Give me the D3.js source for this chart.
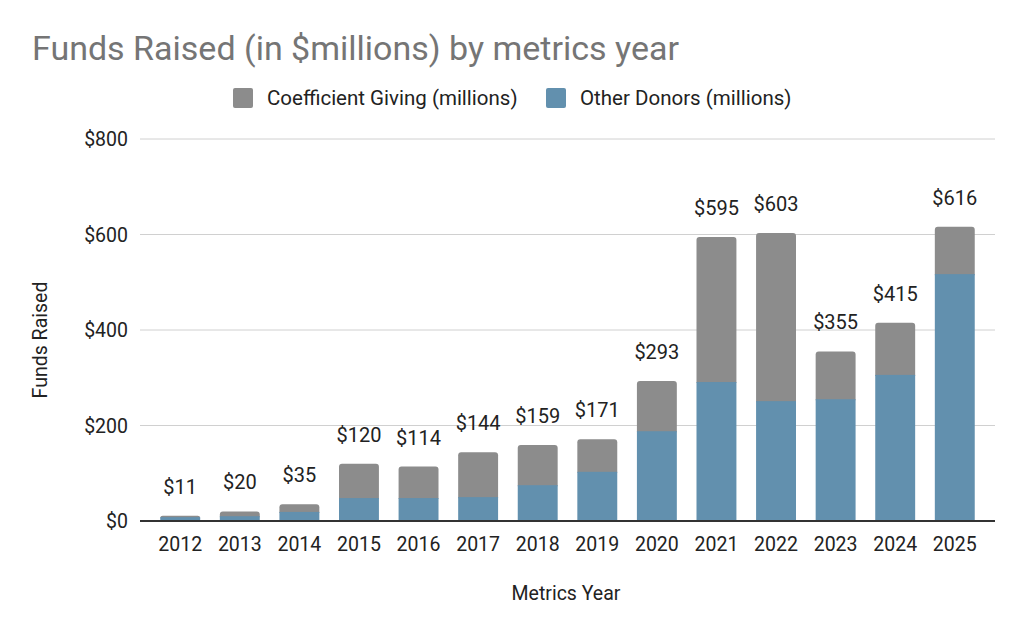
<!DOCTYPE html>
<html><head><meta charset="utf-8">
<script src="https://cdn.jsdelivr.net/npm/d3@7"></script>
<style>body{margin:0;background:#fff;font-family:Roboto,sans-serif}</style>
</head><body><svg id="c" width="1024" height="633"></svg>
<script>
const years = ["2012","2013","2014","2015","2016","2017","2018","2019","2020","2021","2022","2023","2024","2025"];
const other = [8,10,19,48,48,50,75,103,188,291,251,255,306,517];
const totals = [11,20,35,120,114,144,159,171,293,595,603,355,415,616];
const coefficient = totals.map((t, i) => t - other[i]);
const yTicks = [0,200,400,600,800];

const svg = d3.select("#c");
const m = {l: 140, r: 995, t: 139, b: 521};
const x = d3.scaleBand().domain(years).range([m.l, m.r]).paddingInner(0.33).paddingOuter(0.34);
const y = d3.scaleLinear().domain([0, 800]).range([m.b, m.t]);

svg.append("text").attr("x", 32).attr("y", 60).attr("font-size", 34).attr("fill", "#757575").text("Funds Raised (in $millions) by metrics year");

// legend
const leg = [["Coefficient Giving (millions)", "#8c8c8c", 233], ["Other Donors (millions)", "#6290ae", 546]];
leg.forEach(([t, c, lx]) => {
  svg.append("rect").attr("x", lx).attr("y", 88).attr("width", 20).attr("height", 20).attr("rx", 2).attr("fill", c);
  svg.append("text").attr("x", lx + 34).attr("y", 105).attr("font-size", 20.5).attr("fill", "#222").text(t);
});

// grid
svg.append("g").selectAll("line").data(yTicks.slice(1)).join("line")
  .attr("x1", m.l).attr("x2", m.r).attr("y1", d => y(d)).attr("y2", d => y(d)).attr("stroke", "#d0d0d0");
svg.append("g").selectAll("text").data(yTicks).join("text")
  .attr("x", 128).attr("y", d => y(d) + 7).attr("text-anchor", "end").attr("font-size", 19.5).attr("fill", "#222")
  .text(d => "$" + d);

const g = svg.append("g");
years.forEach((yr, i) => {
  const bx = x(yr), bw = x.bandwidth();
  g.append("path").attr("fill", "#8c8c8c")
    .attr("d", roundTop(bx, y(totals[i]), bw, y(other[i]) - y(totals[i]) + 1, 3));
  g.append("rect").attr("x", bx).attr("width", bw).attr("y", y(other[i])).attr("height", y(0) - y(other[i])).attr("fill", "#6290ae");
  svg.append("text").attr("x", bx + bw / 2).attr("y", y(totals[i]) - 22).attr("text-anchor", "middle")
    .attr("font-size", 20).attr("fill", "#222").text("$" + totals[i]);
});
function roundTop(x0, y0, w, h, r) {
  r = Math.min(r, h);
  return `M${x0},${y0 + h}V${y0 + r}Q${x0},${y0} ${x0 + r},${y0}H${x0 + w - r}Q${x0 + w},${y0} ${x0 + w},${y0 + r}V${y0 + h}Z`;
}

svg.append("line").attr("x1", m.l).attr("x2", m.r).attr("y1", m.b).attr("y2", m.b).attr("stroke", "#333").attr("stroke-width", 2);
svg.append("g").selectAll("text").data(years).join("text")
  .attr("x", d => x(d) + x.bandwidth() / 2).attr("y", 551).attr("text-anchor", "middle").attr("font-size", 19.5).attr("fill", "#222").text(d => d);

svg.append("text").attr("x", 566).attr("y", 600).attr("text-anchor", "middle").attr("font-size", 19.5).attr("fill", "#222").text("Metrics Year");
svg.append("text").attr("transform", "translate(47,340) rotate(-90)").attr("text-anchor", "middle").attr("font-size", 19.5).attr("fill", "#222").text("Funds Raised");
</script></body></html>
